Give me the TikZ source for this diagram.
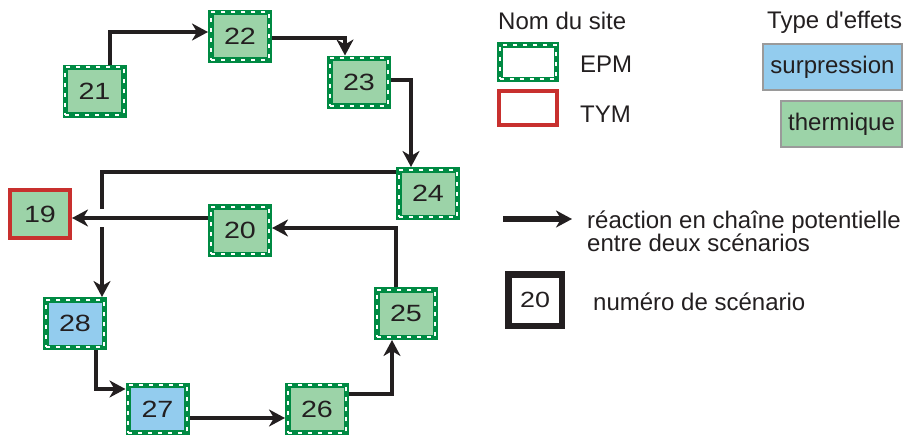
\documentclass[tikz,border=0pt]{standalone}
\usepackage{fontspec}
\setmainfont{Liberation Sans}[Ligatures=TeXOff]
\newfontfamily\numfont[FakeStretch=1.22]{Liberation Sans}
\usetikzlibrary{arrows.meta,calc}
\definecolor{epmgreen}{HTML}{008A43}
\definecolor{fillgreen}{HTML}{9CD3A8}
\definecolor{fillblue}{HTML}{93CCEE}
\definecolor{tymred}{HTML}{C8302E}
\definecolor{ink}{HTML}{231F20}
\definecolor{legray}{HTML}{9A9A9A}
\tikzset{
  epm/.style={draw=epmgreen, line width=5.5pt, minimum width=58.5pt, minimum height=47.5pt,
    inner sep=0pt, font=\numfont\fontsize{23.5}{27}\selectfont, text=ink,
    postaction={draw=white, line width=1.6pt, dash pattern=on 4pt off 6pt}},
  therm/.style={epm, fill=fillgreen},
  surp/.style={epm, fill=fillblue},
  tym/.style={draw=tymred, line width=4pt, minimum width=60pt, minimum height=48pt, inner sep=0pt,
    fill=fillgreen, font=\numfont\fontsize{23.5}{27}\selectfont, text=ink},
  arr/.style={draw=ink, line width=4pt, -{Stealth[length=16pt, width=17pt, inset=5pt]}},
  conn/.style={draw=ink, line width=4pt},
  lab/.style={font=\fontsize{24}{24}\selectfont, text=ink, inner sep=0pt},
  typebox/.style={draw=legray, line width=2pt, inner sep=0pt, minimum height=46pt,
    font=\fontsize{24}{24}\selectfont, text=ink},
}
\begin{document}
\begin{tikzpicture}[x=1pt, y=-1pt]
\useasboundingbox (0,0) rectangle (908,434);
% scenario nodes
\node[therm] (n21) at (94.5,91) {21};
\node[therm] (n22) at (240,36) {22};
\node[therm] (n23) at (359,82) {23};
\node[therm] (n24) at (428,193.5) {24};
\node[therm] (n20) at (240,230.5) {20};
\node[tym]   (n19) at (40,214) {19};
\node[surp]  (n28) at (75,323.5) {28};
\node[surp]  (n27) at (157.5,409) {27};
\node[therm] (n26) at (317,409) {26};
\node[therm] (n25) at (406,313.5) {25};
% connectors
\draw[arr] ([xshift=15.5pt]n21.north) |- ([yshift=4pt]n22.west);
\draw[arr] ([yshift=-2pt]n22.east) -| ([xshift=-14pt]n23.north);
\draw[arr] ([yshift=2pt]n23.east) -| ([xshift=-17pt]n24.north);
\coordinate (gapT) at (102,209);
\coordinate (gapB) at (102,227);
\draw[conn] ([yshift=21.5pt]n24.west) -| (gapT);
\draw[arr] (gapB) -- ([xshift=27pt]n28.north);
\draw[arr] ([yshift=12.5pt]n20.west) -- ([yshift=12.5pt]n20.west -| n19.east);
\draw[arr] ([xshift=-10pt]n25.north) |- ([yshift=2.5pt]n20.east);
\draw[arr] ([xshift=21pt]n28.south) |- ([yshift=20pt]n27.west);
\draw[arr] ([yshift=-9pt]n27.east) -- ([yshift=-9pt]n27.east -| n26.west);
\draw[arr] ([yshift=15pt]n26.east) -| ([xshift=-14pt]n25.south);
% legend: site
\node[lab, anchor=base west] (tsite) at (498,29) {Nom du site};
\node[epm, minimum width=56.5pt, minimum height=34.5pt, fill=white] (kepm) at (528,62) {};
\node[tym, minimum width=58pt, minimum height=34pt, fill=white] (ktym) at (528,108) {};
\node[lab, anchor=base west] (tepm) at (580,72) {EPM};
\node[lab, anchor=base west] (ttym) at (580,122.5) {TYM};
% legend: type
\node[lab, anchor=base west] (ttype) at (767,28) {Type d'effets};
\node[typebox, fill=fillblue, minimum width=139pt] (ksurp) at (832.5,67) {surpression};
\node[typebox, fill=fillgreen, minimum width=121pt] (ktherm) at (841.5,124) {thermique};
% legend: arrow
\coordinate (la1) at (503,219);
\coordinate (la2) at (572,219);
\draw[arr, line width=5.5pt] (la1) -- (la2);
\node[lab, anchor=base west] (tarr1) at (587,228) {réaction en chaîne potentielle};
\node[lab, anchor=base west] (tarr2) at (587,251) {entre deux scénarios};
% legend: number
\node[draw=ink, line width=6.5pt, minimum width=53.5pt, minimum height=51.5pt, inner sep=0pt,
  font=\numfont\fontsize{22}{26}\selectfont, text=ink] (knum) at (535,300) {20};
\node[lab, anchor=base west] (tnum) at (593,310) {numéro de scénario};
\end{tikzpicture}
\end{document}
